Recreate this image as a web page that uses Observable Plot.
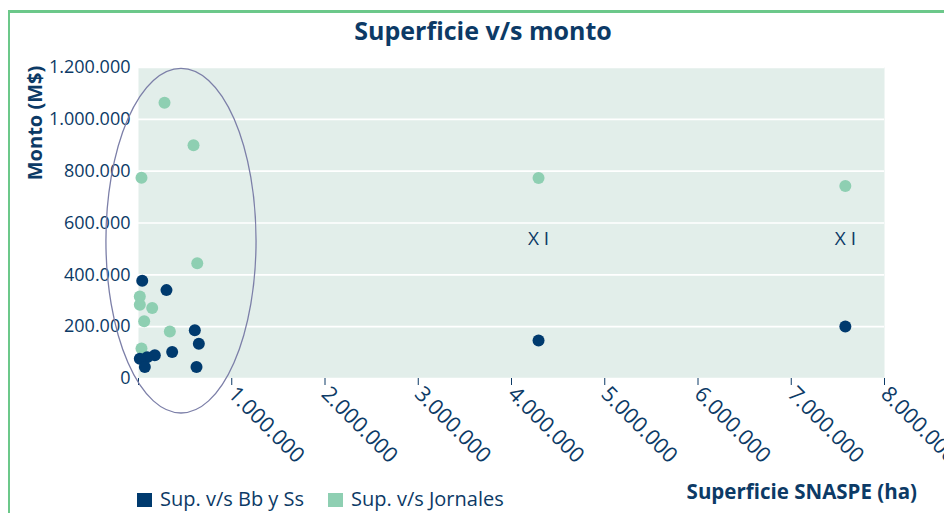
<!DOCTYPE html>
<html>
<head>
<meta charset="utf-8">
<script src="https://cdn.jsdelivr.net/npm/d3@7"></script>
<script src="https://cdn.jsdelivr.net/npm/@observablehq/plot@0.6"></script>
<style>
  html, body { margin: 0; padding: 0; background: #fff; }
  #wrap { position: relative; width: 944px; height: 513px; overflow: hidden; font-family: "Open Sans", sans-serif; color: #0c3a66; }
  #wrap svg { position: absolute; left: 0; top: 0; overflow: visible; }
  .bl { position: absolute; left: 7.5px; top: 10px; width: 2.5px; height: 503px; background: #6cc88a; }
  .bt { position: absolute; left: 7.5px; top: 10px; width: 937px; height: 2.5px; background: #6cc88a; }
  .title { position: absolute; left: 0; width: 966px; top: 13px; text-align: center; font-weight: 700; font-size: 25px; }
  .ylab { position: absolute; left: 34px; top: 123px; transform: translate(-50%, -50%) rotate(-90deg); font-weight: 700; font-size: 20px; white-space: nowrap; }
  .xlab { position: absolute; right: 27px; top: 477px; font-weight: 700; font-size: 20.5px; white-space: nowrap; }
  .leg { position: absolute; top: 485px; font-size: 20px; white-space: nowrap; }
  .sw { display: inline-block; width: 15px; height: 14px; margin-right: 8px; vertical-align: -1px; }
</style>
</head>
<body>
<div id="wrap">
  <div class="bt"></div><div class="bl"></div>
  <div class="title">Superficie v/s monto</div>
  <div class="ylab">Monto (M$)</div>
  <div class="xlab">Superficie SNASPE (ha)</div>
  <div class="leg" style="left:137px"><span class="sw" style="background:#003a6e"></span>Sup. v/s Bb y Ss</div>
  <div class="leg" style="left:328px"><span class="sw" style="background:#8ecfb2"></span>Sup. v/s Jornales</div>
</div>
<script>
// Series: Superficie (ha) vs Monto (M$)
const bbssX = [40000, 300000, 604000, 647000, 361000, 175000, 93000, 14000, 68000, 622000, 4290000, 7580000];
const bbssY = [377000, 341000, 186000, 134000, 102000, 90000, 82000, 76000, 44000, 44000, 147000, 201000];
const jornalesX = [279000, 590000, 32000, 630000, 14000, 14000, 147000, 61000, 336000, 32000, 4290000, 7580000];
const jornalesY = [1064000, 900000, 775000, 445000, 316000, 285000, 272000, 221000, 181000, 116000, 774000, 743000];
const regionX = [4290000, 7580000];
const regionY = [540000, 540000];
const regionLabels = ["X I", "X I"];
const xTicks = [0, 1000000, 2000000, 3000000, 4000000, 5000000, 6000000, 7000000, 8000000];
const yTicks = [0, 200000, 400000, 600000, 800000, 1000000, 1200000];
// Annotation ellipse around the cluster (center x, center y, radius x, radius y in data units)
const clusterEllipse = [461000, 530000, 805000, 665000];

const navy = "#0c3a66";
const fmt = d3.formatLocale({decimal: ",", thousands: ".", grouping: [3], currency: ["$", ""]}).format(",");

const bbss = bbssX.map((x, i) => ({x, y: bbssY[i]}));
const jornales = jornalesX.map((x, i) => ({x, y: jornalesY[i]}));
const regions = regionX.map((x, i) => ({x, y: regionY[i], t: regionLabels[i]}));

const chart = Plot.plot({
  width: 944,
  height: 513,
  marginTop: 67,
  marginBottom: 135,
  marginLeft: 138,
  marginRight: 60,
  style: {fontFamily: "Open Sans, sans-serif", color: navy, background: "transparent", overflow: "visible"},
  x: {domain: [0, 8000000]},
  y: {domain: [0, 1200000]},
  marks: [
    Plot.frame({fill: "#e2eeea", stroke: null}),
    Plot.gridY(yTicks, {stroke: "white", strokeOpacity: 1, strokeWidth: 1.6}),
    Plot.axisY(yTicks, {tickSize: 0, tickPadding: 8, tickFormat: fmt, fontSize: 18, fill: navy, label: null}),
    Plot.axisX(xTicks, {tickSize: 7, tickPadding: 5, tickRotate: 45, tickFormat: d => d === 0 ? "" : fmt(d), fontSize: 21.5, letterSpacing: "0.6px", fill: navy, stroke: navy, label: null}),
    Plot.dot(jornales, {x: "x", y: "y", r: 6, fill: "#8ecfb2", stroke: null}),
    Plot.dot(bbss, {x: "x", y: "y", r: 6, fill: "#003a6e", stroke: null}),
    Plot.text(regions, {x: "x", y: "y", text: "t", fontSize: 19, fill: navy, letterSpacing: "3px"})
  ]
});

// Ellipse annotation, positioned via the plot's own scales
const sx = chart.scale("x"), sy = chart.scale("y");
const [ecx, ecy, erx, ery] = clusterEllipse;
const cx = sx.apply(ecx), cy = sy.apply(ecy);
const rx = sx.apply(ecx + erx) - cx, ry = cy - sy.apply(ecy + ery);
const el = document.createElementNS("http://www.w3.org/2000/svg", "ellipse");
el.setAttribute("cx", cx); el.setAttribute("cy", cy);
el.setAttribute("rx", rx); el.setAttribute("ry", ry);
el.setAttribute("fill", "none"); el.setAttribute("stroke", "#7c7fa8"); el.setAttribute("stroke-width", "1.3");
chart.appendChild(el);

document.getElementById("wrap").appendChild(chart);
</script>
</body>
</html>
